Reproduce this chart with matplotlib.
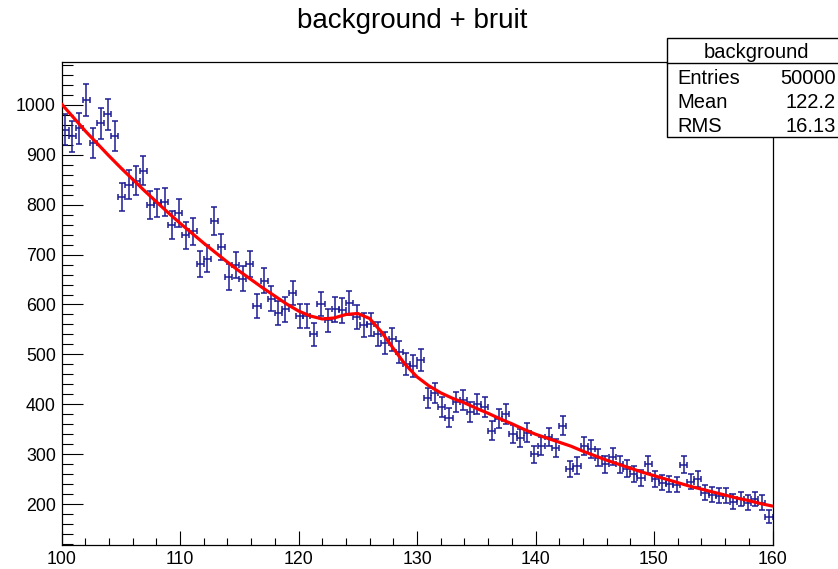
import matplotlib
matplotlib.use("Agg")
import matplotlib.pyplot as plt
import numpy as np
from matplotlib.ticker import MultipleLocator
from matplotlib.patches import Rectangle
from matplotlib.lines import Line2D

plt.rcParams['font.family'] = ['Liberation Sans', 'DejaVu Sans']

# ---- data ----
x_min, x_max, n_bins = 100, 160, 100
counts = [950, 937, 953, 1010, 923, 963, 981, 938, 815, 840,
          848, 868, 799, 803, 805, 759, 783, 739, 747, 681,
          692, 767, 715, 655, 680, 652, 681, 597, 648, 612,
          583, 590, 623, 577, 577, 540, 601, 568, 590, 588,
          603, 575, 559, 560, 541, 523, 530, 505, 481, 477,
          488, 413, 423, 395, 373, 405, 408, 385, 401, 395,
          347, 371, 381, 341, 333, 343, 300, 317, 335, 313,
          357, 270, 277, 317, 310, 293, 280, 295, 280, 271,
          260, 253, 280, 250, 243, 240, 239, 279, 245, 250,
          223, 219, 217, 217, 205, 210, 203, 210, 203, 175]

fit_x = list(range(100, 161))
fit_y = [1002, 975, 948, 923, 898, 874, 851, 828, 806, 784,
         763, 743, 723, 704, 685, 667, 650, 633, 617, 601,
         587, 577, 571, 573, 580, 582, 572, 545, 512, 480,
         455, 437, 423, 412, 403, 392, 382, 371, 361, 350,
         340, 332, 324, 316, 306, 297, 288, 280, 272, 264,
         257, 250, 243, 236, 230, 224, 218, 212, 207, 201, 196]

title = "background + bruit"
stats_name = "background"
stats_rows = [("Entries", "50000"), ("Mean", "122.2"), ("RMS", "16.13")]

# ---- figure ----
W, H = 838, 569
fig = plt.figure(figsize=(W / 100, H / 100), dpi=100)
fig.patch.set_facecolor("white")

ax_l, ax_r, ax_t, ax_b = 61.5, 772.5, 62, 545
ax = fig.add_axes([ax_l / W, 1 - ax_b / H, (ax_r - ax_l) / W, (ax_b - ax_t) / H])

edges = np.linspace(x_min, x_max, n_bins + 1)
centers = 0.5 * (edges[:-1] + edges[1:])
xerr = 0.5 * np.diff(edges)
yerr = np.sqrt(np.array(counts, dtype=float))

ax.errorbar(centers, counts, xerr=xerr, yerr=yerr, fmt='none',
            ecolor='#1c1c94', elinewidth=1.1, capsize=2.3, capthick=1.1, zorder=2)
ax.plot(fit_x, fit_y, color='#ff0000', lw=2.3, zorder=3, solid_capstyle='round')

ax.set_xlim(100, 160)
ax.set_ylim(118, 1086)
ax.xaxis.set_major_locator(MultipleLocator(10))
ax.xaxis.set_minor_locator(MultipleLocator(2))
ax.yaxis.set_major_locator(MultipleLocator(100))
ax.yaxis.set_minor_locator(MultipleLocator(20))
ax.set_yticks([200, 300, 400, 500, 600, 700, 800, 900, 1000])

ax.tick_params(axis='x', which='major', direction='in', length=10.4, width=0.8,
               labelsize=12.8, pad=4, top=False)
ax.tick_params(axis='x', which='minor', direction='in', length=5.2, width=0.8, top=False)
ax.tick_params(axis='y', which='major', direction='in', length=15.2, width=0.8,
               labelsize=12.8, pad=4, right=False)
ax.tick_params(axis='y', which='minor', direction='in', length=7.6, width=0.8, right=False)
for s in ax.spines.values():
    s.set_linewidth(0.9)
    s.set_color('black')

fig.text(412 / W, 1 - 21 / H, title, ha='center', va='center', fontsize=20)

# ---- stats box ----
bx0, by0, bx1, by1 = 667, 38, 850, 137
fig.add_artist(Rectangle((bx0 / W, 1 - by1 / H), (bx1 - bx0) / W, (by1 - by0) / H,
                         transform=fig.transFigure, facecolor='white',
                         edgecolor='black', lw=1.0, zorder=5))
fig.add_artist(Line2D([bx0 / W, 1.0], [1 - 63 / H, 1 - 63 / H],
                      transform=fig.transFigure, color='black', lw=1.0, zorder=6))
fig.text(756 / W, 1 - 52 / H, stats_name, ha='center', va='center', fontsize=14.5, zorder=7)
for k, (lab, val) in enumerate(stats_rows):
    yy = 1 - (78 + 24 * k) / H
    fig.text(677 / W, yy, lab, ha='left', va='center', fontsize=14.5, zorder=7)
    fig.text(836 / W, yy, val, ha='right', va='center', fontsize=14.5, zorder=7)

fig.savefig("out.png", dpi=100)
